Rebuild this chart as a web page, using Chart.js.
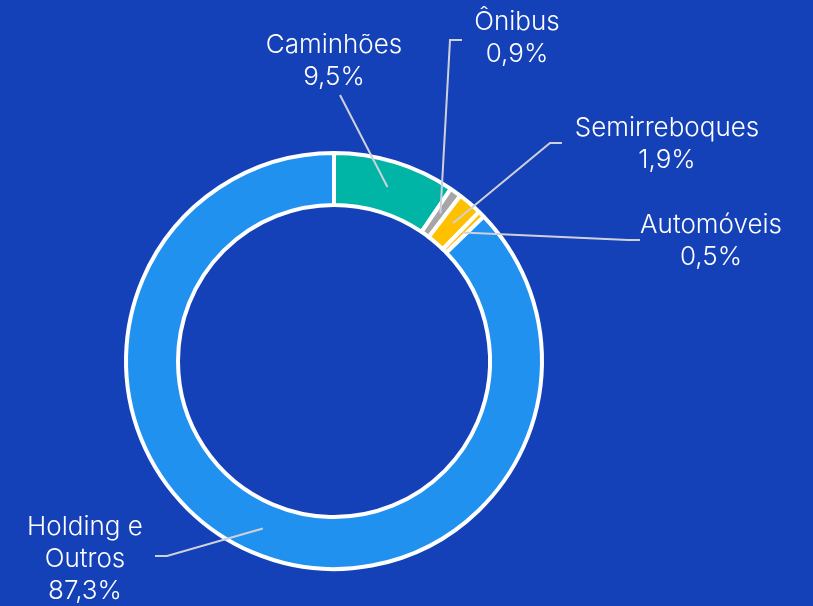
<!DOCTYPE html>
<html>
<head>
<meta charset="utf-8">
<script src="https://cdn.jsdelivr.net/npm/chart.js@4.4.0/dist/chart.umd.min.js"></script>
<style>
  html, body { margin: 0; padding: 0; background: #1440b8; }
  #wrap { width: 813px; height: 606px; position: relative; }
</style>
</head>
<body>
<div id="wrap"><canvas id="segChart"></canvas></div>
<script>
// Data
const segments = ['Caminhões', 'Ônibus', 'Semirreboques', 'Automóveis', 'Holding e Outros'];
const shares = [9.5, 0.9, 1.9, 0.5, 87.3];
const shareLabels = ['9,5%', '0,9%', '1,9%', '0,5%', '87,3%'];
const segColors = ['#00b5a6', '#a6a6a6', '#ffc000', '#ffc000', '#2191f0'];

// Label layout: text lines, text center, leader elbow and end
const labelLayout = [
    { lines: ['Caminhões', '9,5%'], x: 334, y: 45, elbow: [340, 95], end: [340, 95] },
    { lines: ['Ônibus', '0,9%'], x: 517, y: 22, elbow: [450, 40], end: [462, 40] },
    { lines: ['Semirreboques', '1,9%'], x: 667, y: 128, elbow: [550, 143], end: [562, 143] },
    { lines: ['Automóveis', '0,5%'], x: 711, y: 225, elbow: [628, 240], end: [640, 240] },
    { lines: ['Holding e', 'Outros', '87,3%'], x: 85, y: 527, elbow: [167, 556], end: [155, 556] }
];

const calloutPlugin = {
    id: 'callouts',
    afterDraw(chart) {
        const ctx = chart.ctx;
        const meta = chart.getDatasetMeta(0);
        ctx.save();
        meta.data.forEach((arc, i) => {
            const p = arc.getProps(['x', 'y', 'startAngle', 'endAngle', 'innerRadius', 'outerRadius'], true);
            const mid = (p.startAngle + p.endAngle) / 2;
            const r = (p.innerRadius + p.outerRadius) / 2;
            const sx = p.x + Math.cos(mid) * r;
            const sy = p.y + Math.sin(mid) * r;
            const lay = labelLayout[i];
            ctx.strokeStyle = '#cfd1da';
            ctx.lineWidth = 2;
            ctx.beginPath();
            ctx.moveTo(sx, sy);
            ctx.lineTo(lay.elbow[0], lay.elbow[1]);
            ctx.lineTo(lay.end[0], lay.end[1]);
            ctx.stroke();

            ctx.fillStyle = '#ffffff';
            ctx.font = '300 26px Inter, "Noto Sans", sans-serif';
            ctx.textAlign = 'center';
            ctx.textBaseline = 'middle';
            lay.lines.forEach((t, k) => {
                ctx.fillText(t, lay.x, lay.y + k * 32);
            });
        });
        ctx.restore();
    }
};

const segChart = new Chart(document.getElementById('segChart'), {
    type: 'doughnut',
    data: {
        labels: segments,
        datasets: [{
            data: shares,
            backgroundColor: segColors,
            borderColor: '#ffffff',
            borderWidth: 4,
            hoverOffset: 0
        }]
    },
    options: {
        responsive: true,
        maintainAspectRatio: false,
        animation: false,
        radius: 208,
        cutout: '75%',
        layout: { padding: { left: 0, right: 145, top: 116, bottom: 0 } },
        plugins: {
            legend: { display: false },
            tooltip: { enabled: false }
        }
    },
    plugins: [calloutPlugin]
});
</script>
</body>
</html>
